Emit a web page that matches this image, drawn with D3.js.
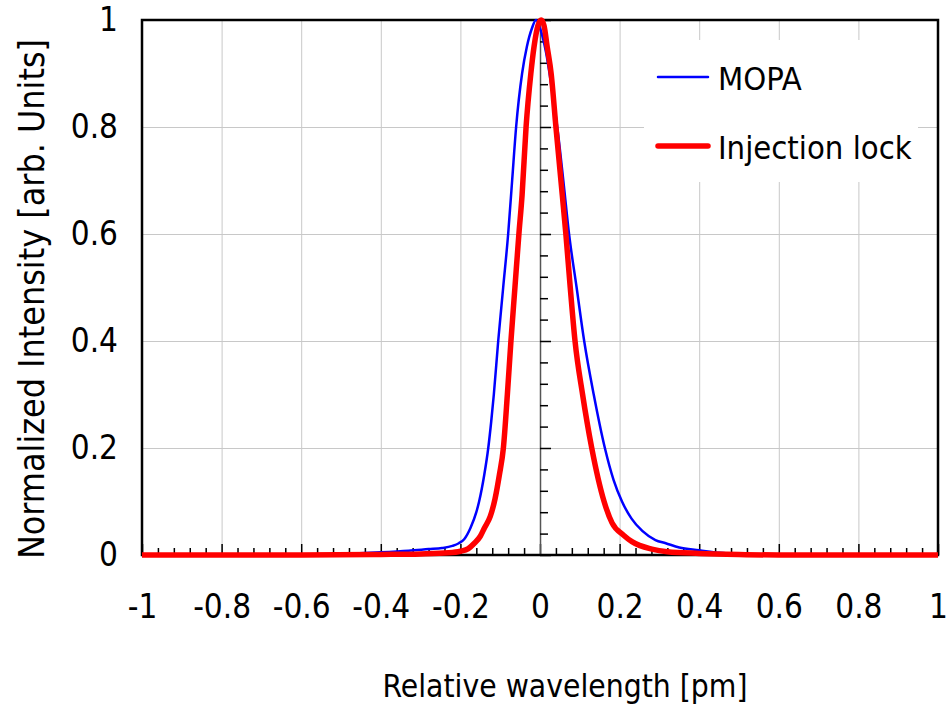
<!DOCTYPE html>
<html>
<head>
<meta charset="utf-8">
<script src="https://cdn.jsdelivr.net/npm/d3@7"></script>
<style>
  body { margin: 0; background: #fff; }
  text { font-family: "DejaVu Sans Condensed", "DejaVu Sans", sans-serif; font-stretch: condensed; fill: #000; }
</style>
</head>
<body>
<svg id="chart" width="946" height="704"></svg>
<script>
// MOPA spectrum
var mopaX = [-1.00, -0.80, -0.60, -0.50, -0.40, -0.33, -0.28, -0.246, -0.22, -0.204, -0.19, -0.175,
             -0.16, -0.153, -0.140, -0.130, -0.1225, -0.116, -0.105, -0.0925, -0.080, -0.070, -0.060,
             -0.045, -0.033, -0.020, -0.010, 0.000, 0.015, 0.030, 0.045, 0.060, 0.073, 0.092, 0.111,
             0.135, 0.163, 0.185, 0.206, 0.230, 0.257, 0.290, 0.316, 0.350, 0.400, 0.450, 0.500,
             0.600, 0.800, 1.000];
var mopaY = [0.000, 0.000, 0.001, 0.002, 0.005, 0.008, 0.011, 0.013, 0.017, 0.022, 0.030, 0.050,
             0.080, 0.100, 0.150, 0.200, 0.250, 0.300, 0.400, 0.500, 0.600, 0.700, 0.800,
             0.900, 0.950, 0.985, 1.000, 0.985, 0.940, 0.870, 0.790, 0.690, 0.600, 0.500, 0.400,
             0.300, 0.200, 0.140, 0.100, 0.068, 0.045, 0.028, 0.022, 0.014, 0.009, 0.004, 0.002,
             0.001, 0.000, 0.000];

// injection locked spectrum
var lockX = [-1.00, -0.60, -0.40, -0.30, -0.23, -0.20, -0.18, -0.165, -0.15, -0.14, -0.125, -0.113,
             -0.102, -0.092, -0.082, -0.073, -0.063, -0.053, -0.045, -0.035, -0.023, -0.015, -0.005,
             0.003, 0.010, 0.018, 0.028, 0.040, 0.056, 0.065, 0.076, 0.088, 0.107, 0.130, 0.161,
             0.181, 0.210, 0.231, 0.281, 0.320, 0.400, 0.500, 0.600, 1.000];
var lockY = [0.000, 0.000, 0.001, 0.002, 0.004, 0.007, 0.012, 0.022, 0.035, 0.050, 0.072, 0.105,
             0.150, 0.200, 0.300, 0.400, 0.500, 0.600, 0.673, 0.800, 0.900, 0.950, 0.990,
             1.000, 0.990, 0.950, 0.900, 0.800, 0.673, 0.600, 0.500, 0.400, 0.300, 0.200, 0.100,
             0.060, 0.037, 0.025, 0.011, 0.006, 0.003, 0.001, 0.000, 0.000];

var xTicks = [-1, -0.8, -0.6, -0.4, -0.2, 0, 0.2, 0.4, 0.6, 0.8, 1];
var yTicks = [0, 0.2, 0.4, 0.6, 0.8, 1];
var seriesNames = ['MOPA', 'Injection lock'];

var svg = d3.select('#chart');

// plot box edges (window.top is read-only, so no plain "top")
var plotLeft   = 142,
    plotRight  = 938,
    plotTop    = 20,
    plotBottom = 555;

var x = d3.scaleLinear().domain([-1, 1]).range([plotLeft, plotRight]);
var y = d3.scaleLinear().domain([0, 1]).range([plotBottom, plotTop]);

var fmt = function(d){ return String(+d.toFixed(1)); };

// minor tick positions, every 0.04
var minorX = d3.range(-25, 26).map(function(i){ return +(i * 0.04).toFixed(2); });
var minorY = d3.range(0, 26).map(function(i){ return +(i * 0.04).toFixed(2); });
function isMajor(d){ return Math.abs(Math.round(d * 5) - d * 5) < 1e-6; }

// gridlines
svg.append('g')
	.attr('transform', 'translate(0,' + plotBottom + ')')
	.call(d3.axisBottom(x).tickValues(xTicks.filter(function(d){ return d !== 0 && Math.abs(d) !== 1; }))
		.tickSize(-(plotBottom - plotTop)).tickFormat(''))
	.call(function(g){ g.select('.domain').remove(); })
	.selectAll('line').attr('stroke', '#c8c8c8').attr('stroke-width', 1);

svg.append('g')
	.attr('transform', 'translate(' + plotLeft + ',0)')
	.call(d3.axisLeft(y).tickValues(yTicks.filter(function(d){ return d > 0 && d < 1; }))
		.tickSize(-(plotRight - plotLeft)).tickFormat(''))
	.call(function(g){ g.select('.domain').remove(); })
	.selectAll('line').attr('stroke', '#c8c8c8').attr('stroke-width', 1);

// legend background hides the grid
svg.append('rect')
	.attr('x', 644).attr('y', 40)
	.attr('width', 274).attr('height', 142)
	.attr('fill', '#fff');

// x axis along y = 0, ticks pointing up
var xAxisG = svg.append('g')
	.attr('transform', 'translate(0,' + plotBottom + ')')
	.call(d3.axisTop(x).tickValues(minorX).tickSizeOuter(0).tickFormat(''));
xAxisG.select('.domain').remove();
xAxisG.selectAll('.tick line')
	.attr('y2', function(d){ return isMajor(d) ? -11 : -7; })
	.attr('stroke', '#000').attr('stroke-width', 1.5);

// y axis along x = 0, ticks pointing right
var yAxisG = svg.append('g')
	.attr('transform', 'translate(' + x(0) + ',0)')
	.call(d3.axisRight(y).tickValues(minorY).tickSizeOuter(0).tickFormat(''));
yAxisG.select('.domain').attr('stroke', '#555').attr('stroke-width', 1.5);
yAxisG.selectAll('.tick line')
	.attr('x2', function(d){ return isMajor(d) ? 11 : 8; })
	.attr('stroke', '#000').attr('stroke-width', 1.5);

// frame
svg.append('rect')
	.attr('x', plotLeft).attr('y', plotTop)
	.attr('width', plotRight - plotLeft).attr('height', plotBottom - plotTop)
	.attr('fill', 'none').attr('stroke', '#000').attr('stroke-width', 2.5);

// tick labels
svg.append('g')
	.attr('transform', 'translate(0,' + (plotBottom + 40) + ')')
	.call(d3.axisBottom(x).tickValues(xTicks).tickSize(0).tickPadding(0).tickFormat(fmt))
	.call(function(g){ g.select('.domain').remove(); })
	.selectAll('text')
	.attr('dy', '0.71em')
	.style('font-size', '33px');

svg.append('g')
	.attr('transform', 'translate(' + (plotLeft - 24) + ',0)')
	.call(d3.axisLeft(y).tickValues(yTicks).tickSize(0).tickPadding(0).tickFormat(fmt))
	.call(function(g){ g.select('.domain').remove(); })
	.selectAll('text')
	.style('font-size', '33px');

// axis titles
svg.append('text')
	.attr('x', 565).attr('y', 697)
	.attr('text-anchor', 'middle')
	.style('font-size', '31.5px')
	.text('Relative wavelength [pm]');

svg.append('text')
	.attr('transform', 'translate(44,' + 299 + ') rotate(-90)')
	.attr('text-anchor', 'middle')
	.style('font-size', '35.5px')
	.text('Normalized Intensity [arb. Units]');

// curves
var line = d3.line()
	.curve(d3.curveMonotoneX)
	.x(function(d){ return x(d[0]); })
	.y(function(d){ return y(d[1]); });

var mopa = d3.zip(mopaX, mopaY),
    lock = d3.zip(lockX, lockY);

svg.append('path')
	.datum(mopa)
	.attr('d', line)
	.attr('fill', 'none')
	.attr('stroke', '#0000ff')
	.attr('stroke-width', 2.5)
	.attr('stroke-linejoin', 'round');

svg.append('path')
	.datum(lock)
	.attr('d', line)
	.attr('fill', 'none')
	.attr('stroke', '#ff0000')
	.attr('stroke-width', 5.5)
	.attr('stroke-linejoin', 'round');

// legend
var legendColours = ['#0000ff', '#ff0000'],
    legendWidths  = [2.5, 5.5],
    legendRows    = [77, 146];

var legend = svg.selectAll('.legend')
	.data(seriesNames)
	.enter()
	.append('g')
	.attr('class', 'legend')
	.attr('transform', function(d, i){ return 'translate(658,' + legendRows[i] + ')'; });

legend.append('line')
	.attr('x1', 0).attr('x2', 50)
	.attr('stroke', function(d, i){ return legendColours[i]; })
	.attr('stroke-width', function(d, i){ return legendWidths[i]; })
	.attr('stroke-linecap', 'round');

legend.append('text')
	.attr('x', 60)
	.attr('y', 13)
	.style('font-size', '32.5px')
	.text(function(d){ return d; });
</script>
</body>
</html>
